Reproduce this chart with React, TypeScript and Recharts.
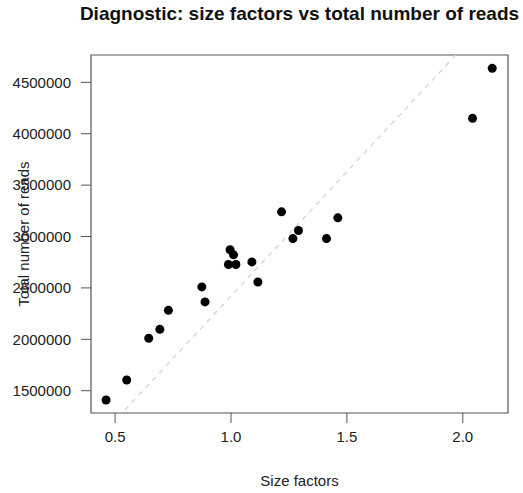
import {
  ScatterChart,
  Scatter,
  XAxis,
  YAxis,
  ReferenceLine,
  ReferenceArea,
} from "recharts";

// size factors vs total reads, one entry per sample
const sizeFactors = [
  2.127, 2.042, 1.218, 1.461, 1.291, 1.267, 1.412, 0.461, 0.55, 0.645,
  0.693, 0.73, 0.874, 0.888, 0.996, 1.011, 0.989, 1.021, 1.09, 1.116,
];
const totalReads = [
  4636000, 4150000, 3240000, 3182000, 3059000, 2980000, 2980000, 1409000,
  1604000, 2010000, 2097000, 2282000, 2510000, 2364000, 2871000, 2822000,
  2728000, 2728000, 2753000, 2558000,
];
const xTicks = [0.5, 1.0, 1.5, 2.0];
const yTicks = [1500000, 2000000, 2500000, 3000000, 3500000, 4000000, 4500000];
const slope = 2420000; // diagonal reference line (reads per size factor)

const X_DOMAIN: [number, number] = [0.396, 2.195];
const Y_DOMAIN: [number, number] = [1283000, 4766000];

const FONT = "'Liberation Sans', Arial, Helvetica, sans-serif";

const points = sizeFactors.map((sf, i) => ({ sf, reads: totalReads[i] }));

export default function App() {
  return (
    <div
      style={{
        position: "absolute",
        left: 0,
        top: 0,
        width: 523,
        height: 493,
        background: "#fff",
        fontFamily: FONT,
      }}
    >
      <div
        style={{
          position: "absolute",
          left: 0,
          width: 599,
          top: 3,
          textAlign: "center",
          fontWeight: "bold",
          fontSize: 19,
          color: "#111",
          whiteSpace: "nowrap",
        }}
      >
        Diagnostic: size factors vs total number of reads
      </div>
      <ScatterChart
        width={523}
        height={493}
        margin={{ top: 55, right: 15, bottom: 0, left: 0 }}
      >
        <XAxis
          type="number"
          dataKey="sf"
          domain={X_DOMAIN}
          ticks={xTicks}
          tickFormatter={(v: number) => v.toFixed(1)}
          allowDataOverflow
          height={80}
          tickSize={10}
          tickMargin={8}
          axisLine={false}
          tick={{ fill: "#222", fontSize: 15, fontFamily: FONT }}
          tickLine={{ stroke: "#555" }}
          label={{
            value: "Size factors",
            content: (p: any) => {
              const vb = p.viewBox;
              return (
                <text
                  x={vb.x + vb.width / 2}
                  y={486}
                  textAnchor="middle"
                  fontSize={15}
                  fontFamily={FONT}
                  fill="#222"
                >
                  Size factors
                </text>
              );
            },
          }}
        />
        <YAxis
          type="number"
          dataKey="reads"
          domain={Y_DOMAIN}
          ticks={yTicks}
          allowDataOverflow
          width={91}
          tickSize={10}
          tickMargin={10}
          axisLine={false}
          tick={{ fill: "#222", fontSize: 15, fontFamily: FONT }}
          tickLine={{ stroke: "#555" }}
          label={{
            value: "Total number of reads",
            content: (p: any) => {
              const vb = p.viewBox;
              const cx = 23;
              const cy = vb.y + vb.height / 2;
              return (
                <text
                  x={cx}
                  y={cy}
                  transform={`rotate(-90 ${cx} ${cy})`}
                  textAnchor="middle"
                  dominantBaseline="central"
                  fontSize={15}
                  fontFamily={FONT}
                  fill="#222"
                >
                  Total number of reads
                </text>
              );
            },
          }}
        />
        <ReferenceLine
          segment={[
            { x: X_DOMAIN[0], y: X_DOMAIN[0] * slope },
            { x: X_DOMAIN[1], y: X_DOMAIN[1] * slope },
          ]}
          stroke="#d4d4d4"
          strokeWidth={1.3}
          strokeDasharray="5 5"
          ifOverflow="hidden"
        />
        <Scatter
          data={points}
          fill="#000"
          isAnimationActive={false}
          shape={(p: any) => <circle cx={p.cx} cy={p.cy} r={4.5} fill="#000" />}
        />
        <ReferenceArea
          x1={X_DOMAIN[0]}
          x2={X_DOMAIN[1]}
          y1={Y_DOMAIN[0]}
          y2={Y_DOMAIN[1]}
          fill="none"
          stroke="#555"
          strokeWidth={1.2}
          ifOverflow="visible"
        />
      </ScatterChart>
    </div>
  );
}
